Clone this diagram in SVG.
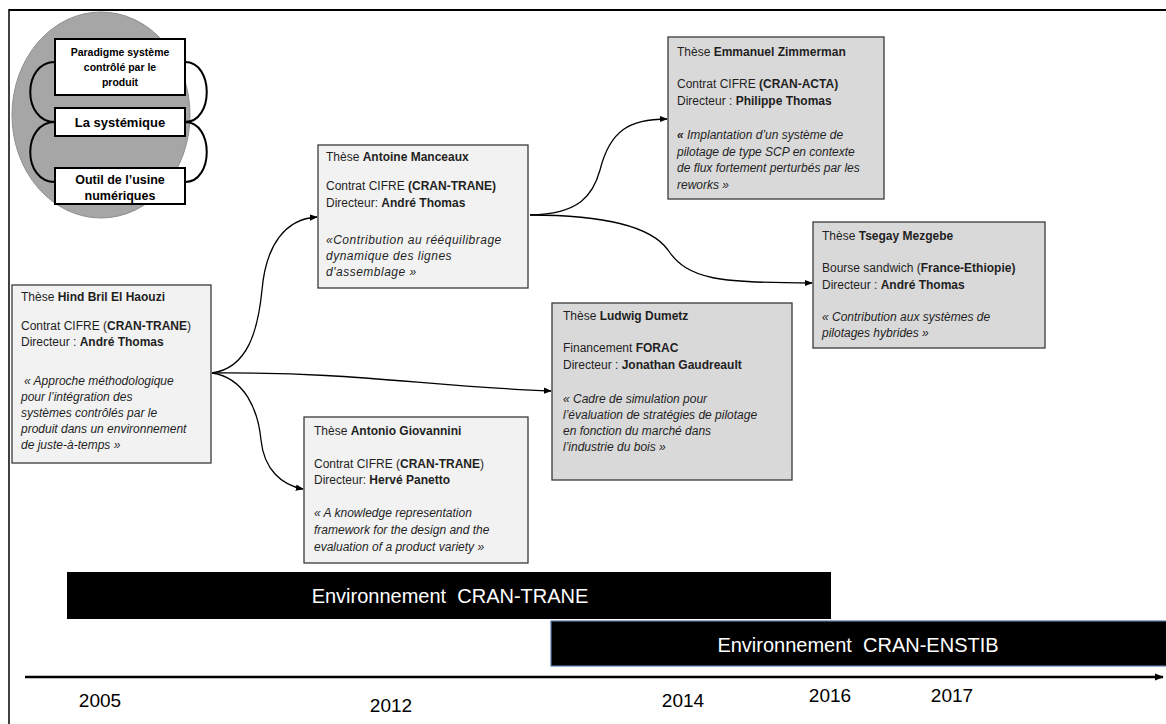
<svg xmlns="http://www.w3.org/2000/svg" width="1166" height="724" viewBox="0 0 1166 724">
<style>
.t{font-family:"Liberation Sans",Arial,sans-serif;font-size:12px;fill:#1f1f1f}
.b{font-weight:bold}
.i{font-style:italic}
.box{stroke:#3a3a3a;stroke-width:1.3}
.l{fill:#f2f2f2}
.d{fill:#d9d9d9}
.ib{fill:#fff;stroke:#000;stroke-width:2}
.it{font-family:"Liberation Sans",Arial,sans-serif;font-weight:bold;fill:#000;text-anchor:middle}
.loop{fill:none;stroke:#000;stroke-width:2}
.con{fill:none;stroke:#000;stroke-width:1.3;marker-end:url(#ah)}
.bar{font-family:"Liberation Sans",Arial,sans-serif;font-size:20px;fill:#fff;text-anchor:middle}
.yr{font-family:"Liberation Sans",Arial,sans-serif;font-size:19px;fill:#000;text-anchor:middle}
</style>
<defs>
<marker id="ah" viewBox="0 0 10 10" refX="9" refY="5" markerWidth="8" markerHeight="8" markerUnits="userSpaceOnUse" orient="auto">
<path d="M0,1 L10,5 L0,9 z" fill="#000"/>
</marker>
<marker id="ah2" viewBox="0 0 10 10" refX="9" refY="5" markerWidth="9" markerHeight="9" markerUnits="userSpaceOnUse" orient="auto">
<path d="M0,1 L10,5 L0,9 z" fill="#000"/>
</marker>
</defs>
<rect width="1166" height="724" fill="#fff"/>
<g id="frame">
<line x1="9" y1="10" x2="1166" y2="10" stroke="#000" stroke-width="2"/>
<line x1="9" y1="9" x2="9" y2="724" stroke="#000" stroke-width="1.5"/>
</g>

<g id="concept">
<ellipse cx="101" cy="115" rx="89" ry="103" fill="#a6a6a6" stroke="#8f8f8f" stroke-width="1"/>
<path class="loop" d="M55,62 C22,62 22,122 55,122 M55,122 C22,122 22,182 55,182 M185,62 C214,62 214,122 185,122 M185,122 C214,122 214,182 185,182"/>
<rect class="ib" x="55" y="39" width="130" height="56"/>
<text class="it" font-size="10.5" x="120" y="56">Paradigme système</text>
<text class="it" font-size="10.5" x="120" y="71">contrôlé par le</text>
<text class="it" font-size="10.5" x="120" y="86">produit</text>
<rect class="ib" x="55" y="108" width="130" height="28"/>
<text class="it" font-size="13" x="120" y="127">La systémique</text>
<rect class="ib" x="55" y="168" width="130" height="36"/>
<text class="it" font-size="12.5" x="120" y="184">Outil de l’usine</text>
<text class="it" font-size="12.5" x="120" y="200">numériques</text>
</g>

<g id="connectors">
<path class="con" d="M212,373 C248,368 258,330 262,290 C266,245 285,219 317,217"/>
<path class="con" d="M212,373 C360,372 420,386 551,391"/>
<path class="con" d="M212,373 C245,378 258,410 261,440 C264,470 282,485 303,489"/>
<path class="con" d="M530,215 C580,214 593,195 600,170 C610,130 630,119 667,119"/>
<path class="con" d="M530,215 C600,215 650,225 668,250 C688,280 720,283 812,283"/>
</g>

<g id="hind">
<rect class="box l" x="12" y="285" width="199" height="178"/>
<text class="t" x="21" y="301">Thèse <tspan class="b">Hind Bril El Haouzi</tspan></text>
<text class="t" x="21" y="330">Contrat CIFRE (<tspan class="b">CRAN-TRANE</tspan>)</text>
<text class="t" x="21" y="346">Directeur : <tspan class="b">André Thomas</tspan></text>
<text class="t i" x="24" y="385">« Approche méthodologique</text>
<text class="t i" x="21" y="401">pour l’intégration des</text>
<text class="t i" x="21" y="417">systèmes contrôlés par le</text>
<text class="t i" x="21" y="433">produit dans un environnement</text>
<text class="t i" x="21" y="449">de juste-à-temps »</text>
</g>

<g id="manceaux">
<rect class="box l" x="318" y="145" width="210" height="143"/>
<text class="t" x="326" y="161">Thèse <tspan class="b">Antoine Manceaux</tspan></text>
<text class="t" x="326" y="190">Contrat CIFRE <tspan class="b">(CRAN-TRANE)</tspan></text>
<text class="t" x="326" y="207">Directeur: <tspan class="b">André Thomas</tspan></text>
<text class="t i" x="326" y="244" letter-spacing="0.5">«Contribution au rééquilibrage</text>
<text class="t i" x="326" y="260" letter-spacing="0.5">dynamique des lignes</text>
<text class="t i" x="326" y="276" letter-spacing="0.5">d'assemblage »</text>
</g>

<g id="zimmerman">
<rect class="box d" x="668" y="37" width="216" height="162"/>
<text class="t" x="677" y="56">Thèse <tspan class="b">Emmanuel Zimmerman</tspan></text>
<text class="t" x="677" y="88">Contrat CIFRE <tspan class="b">(CRAN-ACTA)</tspan></text>
<text class="t" x="677" y="105">Directeur : <tspan class="b">Philippe Thomas</tspan></text>
<text class="t i" x="677" y="139"><tspan class="b">«</tspan>  Implantation d’un système de</text>
<text class="t i" x="677" y="156">pilotage de type SCP en contexte</text>
<text class="t i" x="677" y="172">de flux fortement perturbés par les</text>
<text class="t i" x="677" y="189">reworks »</text>
</g>

<g id="mezgebe">
<rect class="box d" x="813" y="222" width="232" height="126"/>
<text class="t" x="822" y="240">Thèse <tspan class="b">Tsegay Mezgebe</tspan></text>
<text class="t" x="822" y="272">Bourse sandwich (<tspan class="b">France-Ethiopie)</tspan></text>
<text class="t" x="822" y="289">Directeur : <tspan class="b">André Thomas</tspan></text>
<text class="t i" x="822" y="321">« Contribution aux systèmes de</text>
<text class="t i" x="822" y="337">pilotages hybrides »</text>
</g>

<g id="dumetz">
<rect class="box d" x="552" y="303" width="240" height="177"/>
<text class="t" x="563" y="320">Thèse <tspan class="b">Ludwig Dumetz</tspan></text>
<text class="t" x="563" y="352">Financement <tspan class="b">FORAC</tspan></text>
<text class="t" x="563" y="369">Directeur : <tspan class="b">Jonathan Gaudreault</tspan></text>
<text class="t i" x="563" y="403">« Cadre de simulation pour</text>
<text class="t i" x="563" y="419">l’évaluation de stratégies de pilotage</text>
<text class="t i" x="563" y="435">en fonction du marché dans</text>
<text class="t i" x="563" y="451">l’industrie du bois »</text>
</g>

<g id="giovannini">
<rect class="box l" x="304" y="417" width="224" height="146"/>
<text class="t" x="314" y="435">Thèse <tspan class="b">Antonio Giovannini</tspan></text>
<text class="t" x="314" y="468">Contrat CIFRE (<tspan class="b">CRAN-TRANE</tspan>)</text>
<text class="t" x="314" y="484">Directeur: <tspan class="b">Hervé Panetto</tspan></text>
<text class="t i" x="314" y="517">« A knowledge representation</text>
<text class="t i" x="314" y="534">framework for the design and the</text>
<text class="t i" x="314" y="551">evaluation of a product variety »</text>
</g>

<g id="timeline">
<rect x="67" y="572" width="764" height="47" fill="#000"/>
<text class="bar" x="450" y="603" xml:space="preserve">Environnement  CRAN-TRANE</text>
<rect x="551" y="621" width="620" height="45" fill="#000" stroke="#5b79aa" stroke-width="1.2"/>
<text class="bar" x="858" y="652" xml:space="preserve">Environnement  CRAN-ENSTIB</text>
<line x1="25" y1="677" x2="1163" y2="677" stroke="#000" stroke-width="2.5" marker-end="url(#ah2)"/>
<text class="yr" x="100" y="707">2005</text>
<text class="yr" x="391" y="712">2012</text>
<text class="yr" x="683" y="707">2014</text>
<text class="yr" x="830" y="702">2016</text>
<text class="yr" x="952" y="702">2017</text>
</g>
</svg>
